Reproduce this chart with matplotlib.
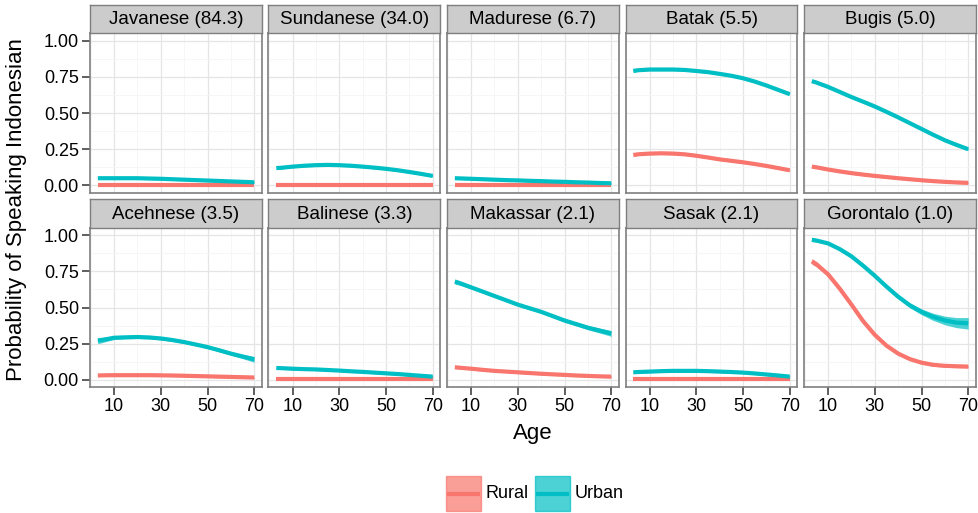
import matplotlib
matplotlib.use("Agg")
import matplotlib.pyplot as plt
from matplotlib.patches import Rectangle
from matplotlib.lines import Line2D
import numpy as np

plt.rcParams['font.family'] = ['Liberation Sans', 'DejaVu Sans']

groups = ["Javanese (84.3)", "Sundanese (34.0)", "Madurese (6.7)", "Batak (5.5)", "Bugis (5.0)",
          "Acehnese (3.5)", "Balinese (3.3)", "Makassar (2.1)", "Sasak (2.1)", "Gorontalo (1.0)"]
ages = [3, 5, 10, 15, 20, 25, 30, 35, 40, 45, 50, 55, 60, 65, 70]

rural = {
    "Javanese (84.3)":  [.003] * 15,
    "Sundanese (34.0)": [.004] * 15,
    "Madurese (6.7)":   [.003] * 15,
    "Batak (5.5)":      [.21, .215, .22, .222, .22, .215, .205, .193, .18, .17, .16, .148, .135, .12, .105],
    "Bugis (5.0)":      [.13, .125, .11, .097, .085, .075, .066, .058, .05, .043, .036, .03, .025, .021, .018],
    "Acehnese (3.5)":   [.028, .029, .03, .03, .03, .03, .029, .028, .026, .024, .022, .02, .018, .016, .014],
    "Balinese (3.3)":   [.006] * 15,
    "Makassar (2.1)":   [.085, .082, .075, .067, .06, .055, .05, .045, .04, .036, .032, .028, .025, .022, .02],
    "Sasak (2.1)":      [.005] * 15,
    "Gorontalo (1.0)":  [.82, .80, .73, .63, .52, .405, .31, .235, .18, .142, .117, .102, .095, .092, .09],
}
urban = {
    "Javanese (84.3)":  [.05, .05, .05, .05, .05, .048, .046, .043, .04, .037, .034, .031, .028, .025, .022],
    "Sundanese (34.0)": [.12, .122, .13, .136, .14, .142, .14, .136, .13, .123, .115, .105, .093, .08, .066],
    "Madurese (6.7)":   [.05, .049, .046, .043, .04, .037, .035, .032, .03, .027, .025, .022, .02, .017, .015],
    "Batak (5.5)":      [.79, .795, .80, .80, .80, .797, .79, .782, .77, .757, .74, .717, .69, .66, .63],
    "Bugis (5.0)":      [.72, .71, .68, .645, .61, .578, .545, .508, .47, .43, .39, .35, .312, .28, .25],
    "Acehnese (3.5)":   [.27, .275, .29, .293, .295, .292, .285, .274, .26, .243, .225, .203, .18, .16, .14],
    "Balinese (3.3)":   [.08, .079, .075, .072, .07, .066, .062, .057, .053, .048, .043, .038, .032, .026, .02],
    "Makassar (2.1)":   [.68, .67, .64, .61, .58, .55, .52, .495, .47, .44, .41, .385, .36, .34, .32],
    "Sasak (2.1)":      [.05, .052, .055, .058, .06, .06, .06, .058, .055, .052, .048, .042, .035, .028, .02],
    "Gorontalo (1.0)":  [.97, .965, .945, .905, .855, .79, .72, .645, .575, .515, .47, .435, .41, .395, .39],
}
# half-width of the confidence ribbon (default 0.008)
urban_se = {
    "Acehnese (3.5)":  [.022, .018, .012, .01, .01, .01, .01, .01, .01, .01, .01, .011, .012, .015, .02],
    "Makassar (2.1)":  [.018, .015, .012, .01, .01, .01, .01, .01, .01, .011, .012, .013, .015, .017, .02],
    "Gorontalo (1.0)": [.012, .011, .01, .01, .01, .011, .012, .013, .015, .017, .02, .025, .03, .035, .04],
}
rural_se = {
    "Gorontalo (1.0)": [.02, .018, .015, .013, .012, .011, .01, .01, .01, .01, .01, .01, .01, .01, .01],
}

xticks = [10, 30, 50, 70]
yticks = [0.0, 0.25, 0.5, 0.75, 1.0]
ytick_labels = ["0.00", "0.25", "0.50", "0.75", "1.00"]

RED = "#F8766D"
CYAN = "#00BFC4"
W, H = 979, 513
fig = plt.figure(figsize=(W / 100, H / 100), dpi=100)

col_left = [90, 268.5, 447, 625.5, 804]
pw = 172
rows = [(5, 33, 193), (199, 228, 387)]  # strip top, panel top, panel bottom

def fx(px):
    return px / W

def fy(py):
    return 1 - py / H

for i, g in enumerate(groups):
    r, c = divmod(i, 5)
    st, pt, pb = rows[r]
    x0 = col_left[c]
    ax = fig.add_axes([fx(x0), fy(pb), pw / W, (pb - pt) / H])
    sax = fig.add_axes([fx(x0), fy(pt), pw / W, (pt - st) / H])
    sax.set_facecolor("#CCCCCC")
    sax.set_xticks([]); sax.set_yticks([])
    for s in sax.spines.values():
        s.set_color("#7F7F7F"); s.set_linewidth(1.0)
    sax.text(0.5, 0.47, g, ha="center", va="center", fontsize=13.5, color="black", transform=sax.transAxes)

    ax.set_xlim(-0.35, 73.35)
    ax.set_ylim(-0.052, 1.052)
    ax.set_xticks(xticks)
    ax.set_xticks([0, 20, 40, 60], minor=True)
    ax.set_yticks(yticks)
    ax.set_yticks([0.125, 0.375, 0.625, 0.875], minor=True)
    ax.grid(True, which="major", color="#E5E5E5", linewidth=0.9)
    ax.grid(True, which="minor", color="#F5F5F5", linewidth=0.6)
    ax.set_axisbelow(True)
    for s in ax.spines.values():
        s.set_color("#7F7F7F"); s.set_linewidth(1.2)
    ax.tick_params(which="minor", length=0)
    ax.tick_params(which="major", length=5.5, width=1.1, color="#333333", labelsize=13, pad=2.5)
    if c == 0:
        ax.set_yticklabels(ytick_labels)
    else:
        ax.tick_params(axis="y", which="major", length=0, labelleft=False)
    if r == 1:
        ax.set_xticklabels([str(t) for t in xticks])
    else:
        ax.tick_params(axis="x", which="major", length=0, labelbottom=False)

    a = np.array(ages)
    for vals, se_d, col in ((rural[g], rural_se, RED), (urban[g], urban_se, CYAN)):
        v = np.array(vals)
        se = np.array(se_d.get(g, [0.008] * len(ages)))
        ax.fill_between(a, v - se, v + se, color=col, alpha=0.7, linewidth=0)
        ax.plot(a, v, color=col, linewidth=3.0, solid_capstyle="butt", solid_joinstyle="round")

fig.text(fx(533), fy(433), "Age", ha="center", va="center", fontsize=16)
fig.text(fx(17), fy(210), "Probability of Speaking Indonesian", ha="center", va="center",
         rotation=90, fontsize=16)

# legend
for kx, lab, col in ((446, "Rural", RED), (535, "Urban", CYAN)):
    rect = Rectangle((fx(kx), fy(511)), 35 / W, 35 / H, transform=fig.transFigure,
                     facecolor=col, alpha=0.7, edgecolor=col, linewidth=1.0)
    fig.patches.append(rect)
    fig.lines.append(Line2D([fx(kx + 3), fx(kx + 32)], [fy(493.5), fy(493.5)],
                            transform=fig.transFigure, color=col, linewidth=3.0))
    fig.text(fx(kx + 40), fy(494), lab, ha="left", va="center", fontsize=13)

fig.savefig("out.png", dpi=100)
